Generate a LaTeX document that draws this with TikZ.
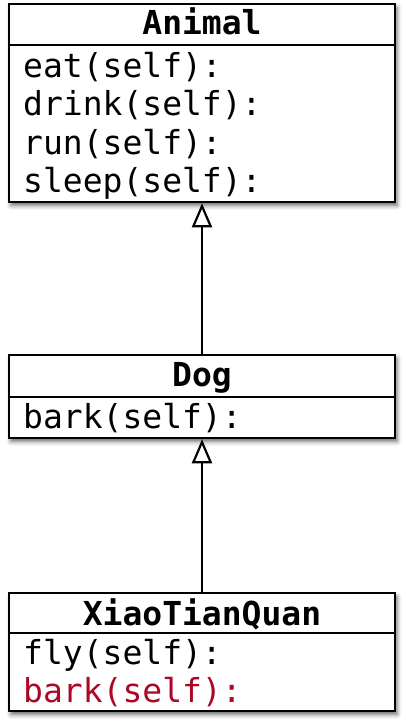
\documentclass[tikz,border=0pt]{standalone}
\usepackage{fontspec}
\newfontfamily\monofam{DejaVu Sans Mono}
\usetikzlibrary{arrows.meta,shadows.blur}
\definecolor{redtxt}{RGB}{172,8,38}
\tikzset{
  classbox/.style={draw=black, line width=2.5pt, fill=white, minimum width=386pt, inner sep=0pt,
    blur shadow={shadow xshift=2pt, shadow yshift=-3.5pt, shadow blur radius=4.5pt, shadow opacity=60}},
  sepline/.style={line width=2.5pt},
  title/.style={anchor=base, inner sep=0pt, font=\monofam\bfseries\fontsize{33}{38}\selectfont},
  member/.style={anchor=base west, inner sep=0pt, font=\monofam\fontsize{33}{38}\selectfont},
  inherit/.style={line width=2.2pt, -{Triangle[open, length=24pt, width=20pt, line width=2.2pt]}, fill=white}
}
\begin{document}
\begin{tikzpicture}[x=1pt,y=-1pt]
\useasboundingbox (0,0) rectangle (406,727);
% Animal
\node[classbox, minimum height=198pt] (animal) at (202,103) {};
\draw[sepline] (9,45) coordinate (as1) -- (395,45) coordinate (as2);
\node[title] (animalT) at (202,35) {Animal};
\node[member] (m1) at (23,78) {eat(self):};
\node[member] (m2) at (23,116) {drink(self):};
\node[member] (m3) at (23,155) {run(self):};
\node[member] (m4) at (23,193) {sleep(self):};
% Dog
\node[classbox, minimum height=83pt] (dog) at (202,396.5) {};
\draw[sepline] (9,397) coordinate (ds1) -- (395,397) coordinate (ds2);
\node[title] (dogT) at (202,386) {Dog};
\node[member] (d1) at (23,428) {bark(self):};
% XiaoTianQuan
\node[classbox, minimum height=118pt] (xtq) at (202,652) {};
\draw[sepline] (9,633) coordinate (xs1) -- (395,633) coordinate (xs2);
\node[title] (xtqT) at (202,625) {XiaoTianQuan};
\node[member] (x1) at (23,664) {fly(self):};
\node[member, text=redtxt] (x2) at (23,702) {bark(self):};
% inheritance
\draw[inherit] (dog.north) -- (animal.south);
\draw[inherit] (xtq.north) -- (dog.south);
\end{tikzpicture}
\end{document}
